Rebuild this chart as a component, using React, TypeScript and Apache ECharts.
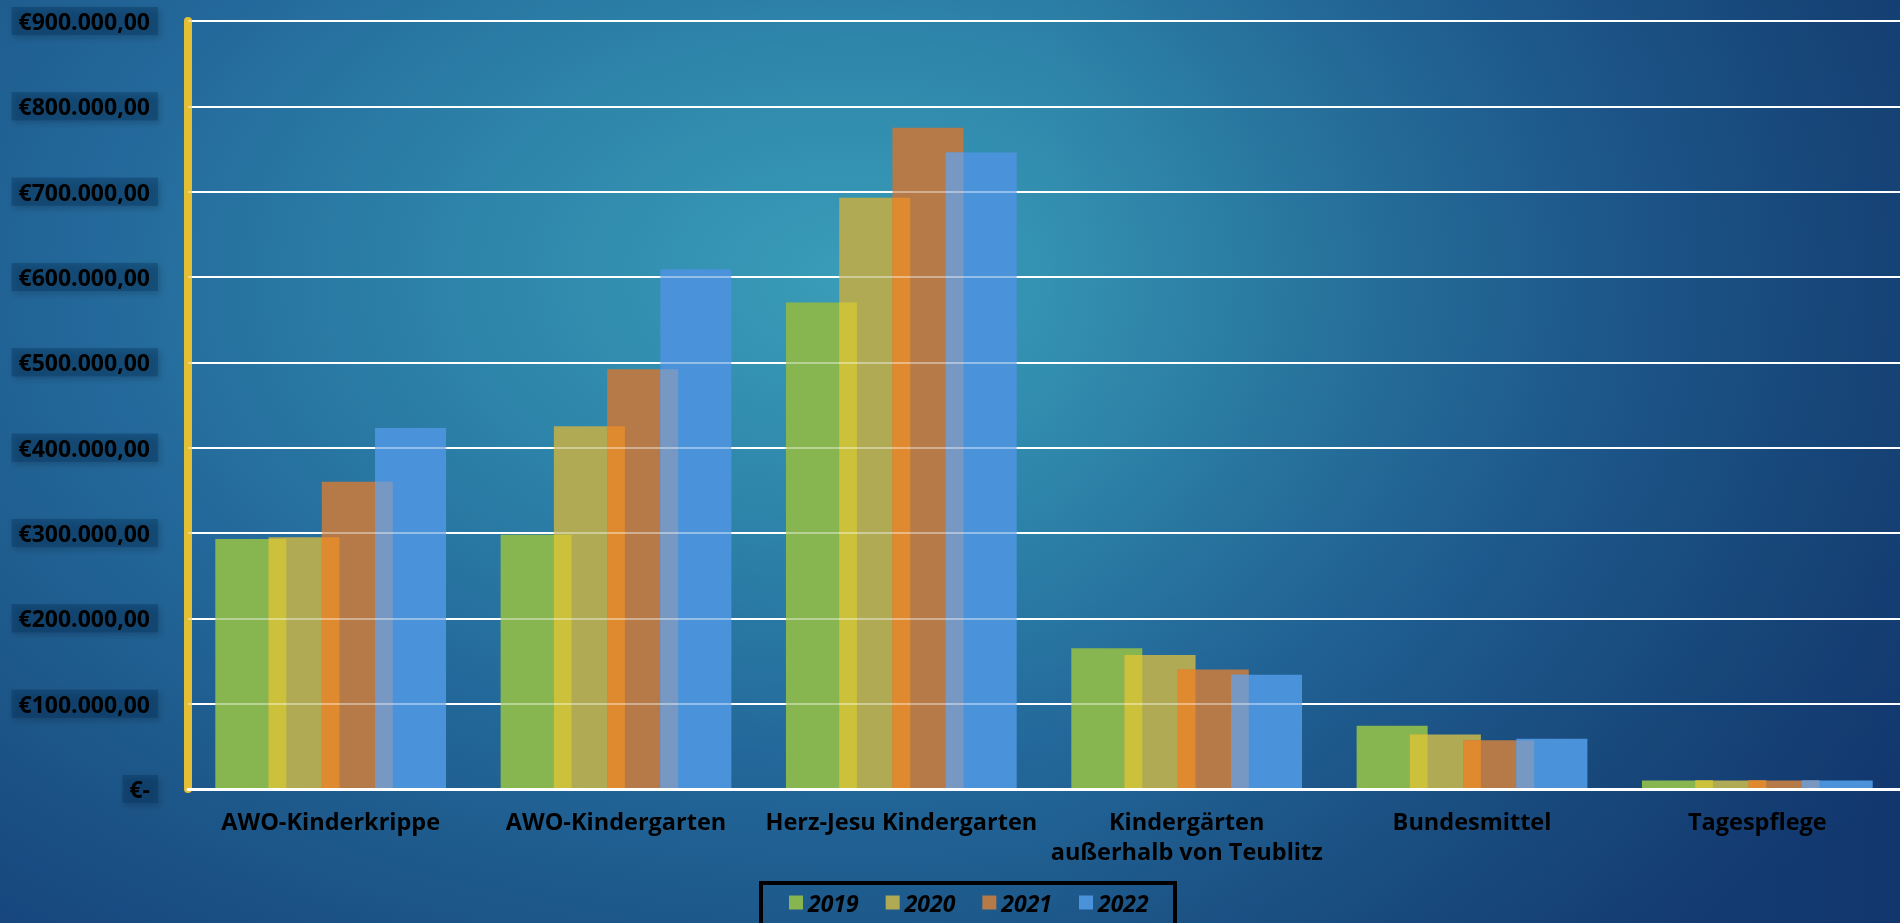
import React, { useEffect, useRef } from "react";
import * as echarts from "echarts";

const categories = [
  "AWO-Kinderkrippe",
  "AWO-Kindergarten",
  "Herz-Jesu Kindergarten",
  "Kindergärten\naußerhalb von Teublitz",
  "Bundesmittel",
  "Tagespflege",
];
const years = ["2019", "2020", "2021", "2022"];
const v2019 = [293000, 298000, 570000, 165000, 74000, 10000];
const v2020 = [295000, 425000, 693000, 157000, 64000, 10000];
const v2021 = [360000, 492000, 775000, 140000, 57000, 10000];
const v2022 = [423000, 609000, 746000, 134000, 59000, 10000];
const yMin = 0;
const yMax = 900000;
const yStep = 100000;

const seriesColors = ["#87b54f", "#b0aa55", "#b67a48", "#4a93db"];
const overlapColors = ["#cbc13b", "#df8a2f", "#7898c4"];
const BAR_W = 71;
const GAP = -0.25;

const FONT = "'Open Sans', 'DejaVu Sans', sans-serif";

function fmtEuro(v: number): string {
  if (v === 0) return "€-";
  const s = Math.round(v).toString();
  const parts: string[] = [];
  for (let i = s.length; i > 0; i -= 3) parts.unshift(s.slice(Math.max(0, i - 3), i));
  return "€" + parts.join(".") + ",00";
}

export default function App() {
  const ref = useRef<HTMLDivElement>(null);
  useEffect(() => {
    if (!ref.current) return;
    const chart = echarts.init(ref.current, undefined, { renderer: "svg" });
    const all = [v2019, v2020, v2021, v2022];
    const overlapData: number[][] = [];
    categories.forEach((_, c) => {
      for (let p = 0; p < 3; p++) {
        overlapData.push([c, Math.min(all[p][c], all[p + 1][c]), p]);
      }
    });
    const option: any = {
      animation: false,
      backgroundColor: "transparent",
      grid: { left: 188, right: 0, top: 21, bottom: 134, containLabel: false },
      legend: {
        data: years,
        left: 789,
        top: 891,
        padding: 0,
        itemWidth: 14,
        itemHeight: 14,
        itemGap: 27,
        icon: "rect",
        textStyle: {
          color: "#000",
          fontFamily: FONT,
          fontSize: 23,
          fontWeight: "bold",
          fontStyle: "italic",
        },
      },
      graphic: [
        {
          type: "rect",
          shape: { x: 761, y: 883, width: 414, height: 60 },
          style: { fill: "transparent", stroke: "#000", lineWidth: 4 },
          z: 10,
        },
      ],
      xAxis: {
        type: "category",
        data: categories,
        z: 6,
        axisLine: { show: true, lineStyle: { color: "#ffffff", width: 3 } },
        axisTick: { show: false },
        axisLabel: {
          color: "#000",
          fontFamily: FONT,
          fontSize: 23.5,
          fontWeight: "bold",
          lineHeight: 30,
          margin: 17,
          interval: 0,
        },
        splitLine: { show: false },
      },
      yAxis: [
        {
          type: "value",
          min: yMin,
          max: yMax,
          interval: yStep,
          z: 0,
          axisLine: { show: true, lineStyle: { color: "#e5bf33", width: 8 } },
          axisTick: { show: false },
          splitLine: { show: true, lineStyle: { color: "#ffffff", width: 2 } },
          axisLabel: {
            formatter: (v: number) => fmtEuro(v),
            color: "#000",
            fontFamily: FONT,
            fontSize: 23,
            fontWeight: "bold",
            margin: 30,
            padding: [3, 8, 2, 7],
            backgroundColor: "rgba(8,40,78,0.33)",
            shadowColor: "rgba(0,10,30,0.55)",
            shadowBlur: 6,
            shadowOffsetX: 2,
            shadowOffsetY: 3,
          },
        },
        {
          type: "value",
          min: yMin,
          max: yMax,
          interval: yStep,
          position: "left",
          z: 5,
          axisLine: { show: false },
          axisTick: { show: false },
          axisLabel: { show: false },
          splitLine: {
            show: true,
            lineStyle: { color: "rgba(255,255,255,0.4)", width: 2 },
          },
        },
      ],
      series: [
        ...all.map((d, i) => ({
          name: years[i],
          type: "bar",
          data: d,
          barWidth: BAR_W,
          barGap: `${GAP * 100}%`,
          itemStyle: { color: seriesColors[i] },
          z: 2,
        })),
        {
          name: "overlap",
          type: "custom",
          z: 3,
          encode: { x: 0, y: 1 },
          data: overlapData,
          renderItem: (params: any, api: any) => {
            const c = api.value(0);
            const v = api.value(1);
            const p = api.value(2);
            const base = api.coord([c, 0]);
            const top = api.coord([c, v]);
            const step = BAR_W * (1 + GAP);
            const total = BAR_W + 3 * step;
            const left0 = base[0] - total / 2;
            const x = left0 + (p + 1) * step;
            const width = BAR_W - step;
            return {
              type: "rect",
              shape: { x, y: top[1], width, height: base[1] - top[1] },
              style: { fill: overlapColors[p] },
            };
          },
        },
      ],
    };
    chart.setOption(option);
    return () => chart.dispose();
  }, []);
  return (
    <div
      style={{
        position: "fixed",
        left: 0,
        top: 0,
        width: 1900,
        height: 923,
        background:
          "linear-gradient(to right, rgba(0,0,0,0) 55%, rgba(8,25,80,0.35) 100%), radial-gradient(ellipse 70% 90% at 45% 30%, #3a9db8 0%, #2e86ab 28%, #23689a 58%, #1d5789 80%, #17477e 100%)",
      }}
    >
      <div ref={ref} style={{ width: 1900, height: 923 }} />
    </div>
  );
}
